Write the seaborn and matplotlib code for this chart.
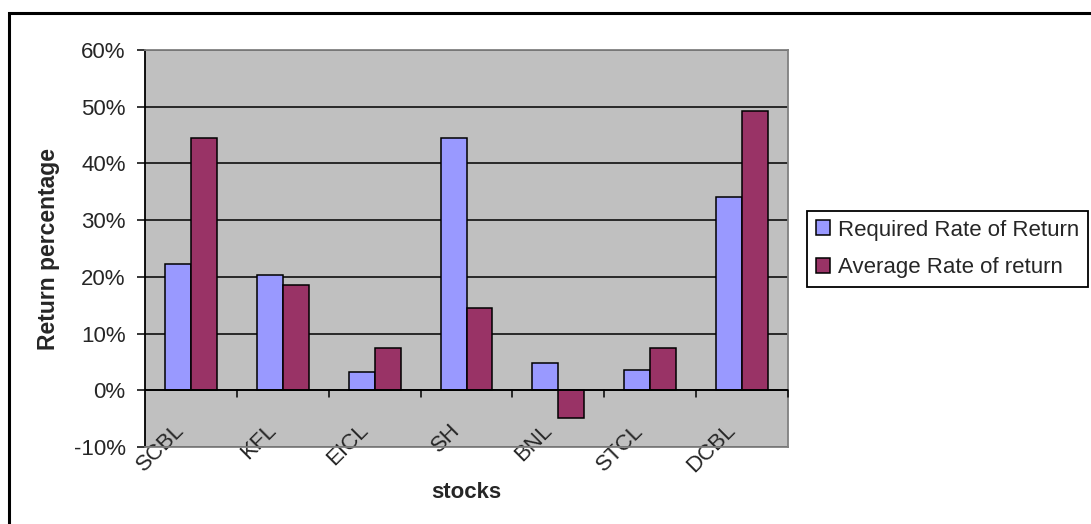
import matplotlib
matplotlib.use("Agg")
import matplotlib.pyplot as plt
import matplotlib.transforms as mtransforms
from matplotlib.patches import Rectangle
import pandas as pd
import seaborn as sns

stocks = ["SCBL", "KFL", "EICL", "SH", "BNL", "STCL", "DCBL"]
required_rate = [22.2, 20.3, 3.2, 44.5, 4.8, 3.5, 34.1]
average_rate = [44.4, 18.5, 7.4, 14.5, -4.9, 7.4, 49.2]
series_names = ["Required Rate of Return", "Average Rate of return"]
y_ticks = [-10, 0, 10, 20, 30, 40, 50, 60]

df = pd.DataFrame({
    "stock": stocks * 2,
    "series": [series_names[0]] * len(stocks) + [series_names[1]] * len(stocks),
    "value": required_rate + average_rate,
})

sns.set_style("white")
plt.rcParams["font.family"] = ["Liberation Sans", "DejaVu Sans"]
FS = 16

fig = plt.figure(figsize=(10.91, 5.24), dpi=100)
ax = fig.add_axes([145 / 1091, 1 - 447 / 524, (788 - 145) / 1091, (447 - 50) / 524])
ax.set_facecolor("#C0C0C0")
ax.set_axisbelow(True)

palette = {series_names[0]: "#9999FF", series_names[1]: "#993366"}
sns.barplot(data=df, x="stock", y="value", hue="series", order=stocks,
            hue_order=series_names, palette=palette, width=0.566, gap=0,
            edgecolor="black", linewidth=1.1, saturation=1, ax=ax, legend=True)

ax.set_ylim(-10, 60)
ax.set_xlim(-0.5, len(stocks) - 0.5)
ax.set_yticks(y_ticks)
ax.set_yticklabels([f"{t}%" for t in y_ticks], fontsize=FS)
ax.yaxis.grid(True, color="black", linewidth=1.1)
ax.tick_params(axis="y", direction="out", length=6, width=1.1, color="black", pad=8, left=True)

# category labels, rotated and tucked up against the plot area bottom
ax.set_xticks(range(len(stocks)))
ax.set_xticklabels(stocks, fontsize=FS, rotation=45, ha="right", va="top",
                   rotation_mode="anchor")
ax.tick_params(axis="x", length=0, pad=0)
shift = mtransforms.ScaledTranslation(-17 / 100, 27 / 100, fig.dpi_scale_trans)
for lbl in ax.get_xticklabels():
    lbl.set_transform(lbl.get_transform() + shift)

# horizontal category axis at zero with boundary ticks
ax.axhline(0, color="black", linewidth=1.3, zorder=3)
for b in [i + 0.5 for i in range(len(stocks))]:
    ax.plot([b, b], [0, -1.2], color="black", linewidth=1.1, zorder=3, clip_on=False)

ax.spines["left"].set_color("black")
ax.spines["left"].set_linewidth(1.3)
for side in ["top", "right", "bottom"]:
    ax.spines[side].set_color("#808080")
    ax.spines[side].set_linewidth(1.3)

ax.set_xlabel("stocks", fontsize=FS, fontweight="bold")
ax.xaxis.set_label_coords(0.499, (447 - 482) / 397)
ax.set_ylabel("Return percentage", fontsize=FS + 0.5, fontweight="bold")
ax.yaxis.set_label_coords((60 - 145) / 643, 0.5)

handles, labels = ax.get_legend_handles_labels()
ax.legend(handles, labels, loc="center left", bbox_to_anchor=(807 / 1091, 1 - 249 / 524),
          bbox_transform=fig.transFigure, frameon=True, fancybox=False,
          edgecolor="black", framealpha=1, fontsize=FS, handlelength=0.65,
          handleheight=0.65, handletextpad=0.35, borderpad=0.4, labelspacing=0.75,
          borderaxespad=0)
ax.get_legend().get_frame().set_linewidth(1.3)

# chart frame
fig.patches.append(Rectangle((8.5 / 1091, -0.05), 1.2, 1.05 - 12.5 / 524,
                             transform=fig.transFigure, fill=False,
                             edgecolor="black", linewidth=2.2))

fig.savefig("out.png", dpi=100)
